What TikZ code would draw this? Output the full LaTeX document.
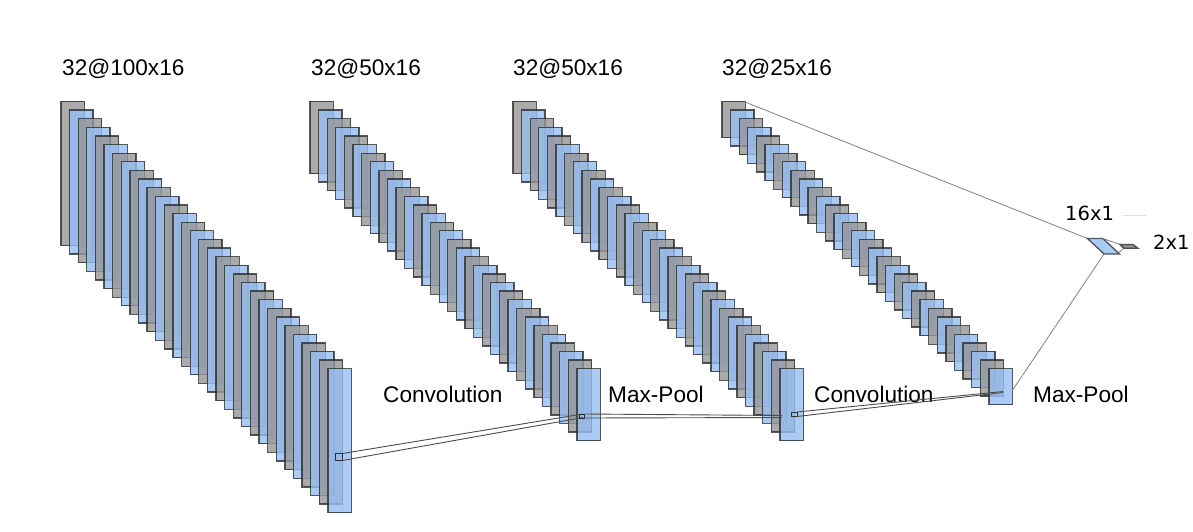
\documentclass[tikz,border=0pt]{standalone}
\usepackage{fontspec}
\setmainfont{Liberation Sans}
\newfontfamily\dvs{DejaVu Sans}
\definecolor{fmgray}{RGB}{150,150,150}
\definecolor{fmblue}{RGB}{150,190,245}
\definecolor{fmedge}{RGB}{45,45,45}
\tikzset{
  fmap/.style={draw=fmedge, draw opacity=0.8, line width=1.3pt, fill opacity=0.8},
  conn/.style={draw=fmedge!85, line width=0.9pt},
  thinconn/.style={draw=black!50, line width=0.8pt},
  lbl/.style={inner sep=0pt, anchor=base west, font=\fontsize{22.6}{27}\selectfont},
  dlbl/.style={inner sep=0pt, anchor=base west, font=\dvs\fontsize{19.5}{23}\selectfont},
}
\newcommand\fmstack[2]{%
  \foreach \i in {0,...,31}{%
    \ifodd\i\relax\def\fmcol{fmblue}\else\def\fmcol{fmgray}\fi
    \draw[fmap,fill=\fmcol] ({#1+\i*8.61},{101.5+\i*8.62}) rectangle ++(23.3,#2);
  }}
\begin{document}
\begin{tikzpicture}[x=1pt,y=-1pt]
\useasboundingbox (0,0) rectangle (1193,532);
% stacks
\fmstack{61}{144}
\fmstack{310}{72}
\fmstack{513}{72}
\fmstack{722}{36}
% labels
\node[lbl] (l1) at (62,76) {32@100x16};
\node[lbl] (l2) at (311,76) {32@50x16};
\node[lbl] (l3) at (513,76) {32@50x16};
\node[lbl] (l4) at (722,76) {32@25x16};
\node[lbl] (c1) at (383,402) {Convolution};
\node[lbl] (m1) at (608,402) {Max-Pool};
\node[lbl] (c2) at (814,402) {Convolution};
\node[lbl] (m2) at (1033,402) {Max-Pool};
\node[dlbl] (d1) at (1065,220) {16x1};
\node[dlbl] (d2) at (1153,249) {2x1};
% kernel squares
\coordinate (k1tl) at (335.5,453.5); \coordinate (k1tr) at (342.5,453.5); \coordinate (k1br) at (342.5,460.5);
\draw[fmedge, line width=1pt] (k1tl) rectangle (k1br);
\coordinate (p2a) at (583,414); \coordinate (p2b) at (583,417.5);
\draw[conn] (k1tr) -- (p2a);
\draw[conn] (k1br) -- (p2b);
\coordinate (k2tl) at (579,414); \coordinate (k2tr) at (584.5,414); \coordinate (k2br) at (584.5,418);
\draw[fmedge, line width=0.9pt] (k2tl) rectangle (k2br);
\coordinate (p3a) at (782,415.5); \coordinate (p3b) at (782,417.5);
\draw[conn] (k2tr) -- (p3a);
\draw[conn] (k2br) -- (p3b);
\coordinate (k3tl) at (791.5,412); \coordinate (k3tr) at (797,412); \coordinate (k3br) at (797,416.5);
\draw[fmedge, line width=0.9pt] (k3tl) rectangle (k3br);
\coordinate (p4a) at (1003,391.5); \coordinate (p4b) at (1003,392.5);
\draw[conn] (k3tr) -- (p4a);
\draw[conn] (k3br) -- (p4b);
% dense layers
\coordinate (s4top) at (745,102);
\coordinate (s4bot) at (1012,391);
\coordinate (dtl) at (1087.5,238.5); \coordinate (dtr) at (1103,238.5);
\coordinate (dbr) at (1119.5,254); \coordinate (dbl) at (1104,254);
\draw[thinconn] (s4top) -- (dtl);
\draw[thinconn] (s4bot) -- (dbl);
\draw[fmap, fill=fmblue] (dtl) -- (dtr) -- (dbr) -- (dbl) -- cycle;
\coordinate (otl) at (1120,244.5); \coordinate (otr) at (1133,244.5);
\coordinate (obr) at (1138,248.3); \coordinate (obl) at (1124,248.3);
\draw[thinconn] (dtr) -- (otl);
\draw[thinconn] (1118,253) -- (obl);
\draw[fmap, fill=fmgray!80!black] (otl) -- (otr) -- (obr) -- (obl) -- cycle;
\coordinate (fa) at (1123,215); \coordinate (fb) at (1146,215);
\draw[black!12, line width=1pt] (fa) -- (fb);
\end{tikzpicture}
\end{document}
